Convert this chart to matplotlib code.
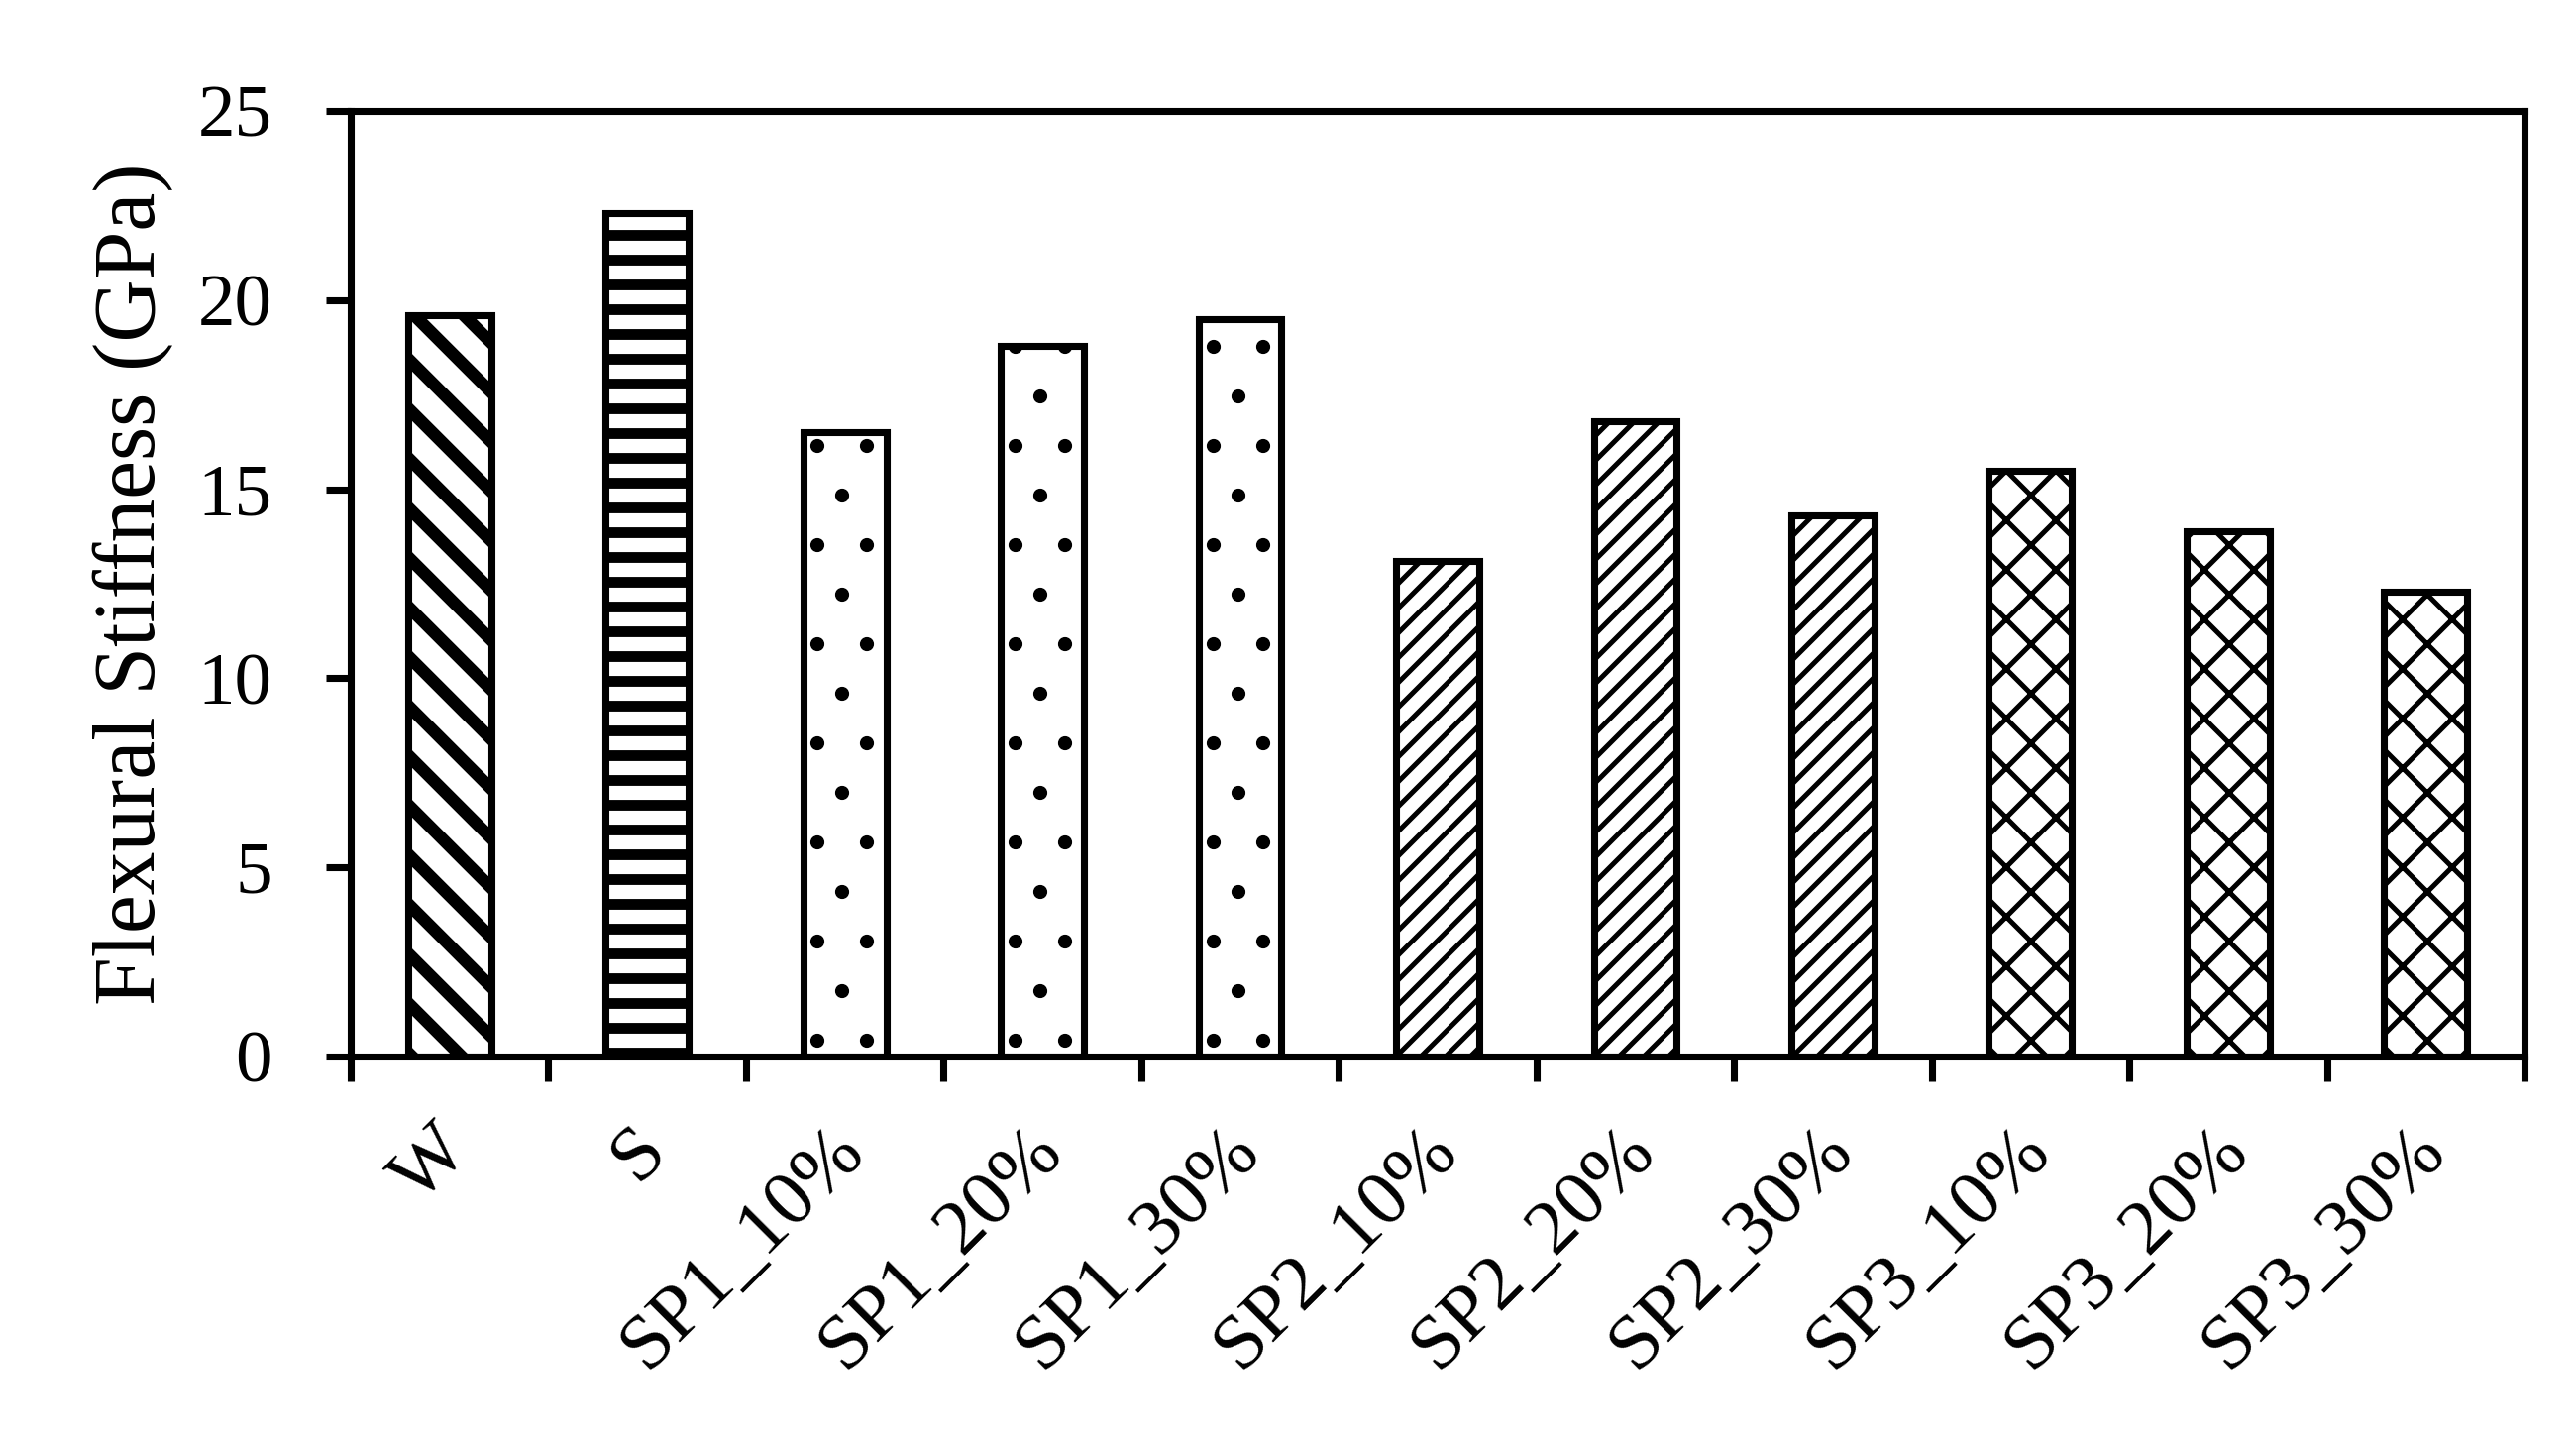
import matplotlib
matplotlib.use('Agg')
import matplotlib.pyplot as plt
import numpy as np

categories = ['W', 'S', 'SP1_10%', 'SP1_20%', 'SP1_30%', 'SP2_10%', 'SP2_20%',
              'SP2_30%', 'SP3_10%', 'SP3_20%', 'SP3_30%']
stiffness = [19.6, 22.3, 16.5, 18.8, 19.5, 13.1, 16.8, 14.3, 15.5, 13.9, 12.3]
y_ticks = [0, 5, 10, 15, 20, 25]
y_label = 'Flexural Stiffness (GPa)'

hatches = ['\\\\', '--', '.', '.', '.', '////', '////', '////', 'xx', 'xx', 'xx']
hatch_lw = [3.0, 2.6, 1.0, 1.0, 1.0, 1.2, 1.2, 1.2, 1.2, 1.2, 1.2]

plt.rcParams['font.family'] = ['Liberation Serif', 'DejaVu Serif']
plt.rcParams['hatch.color'] = 'black'

DPI = 300
fig = plt.figure(figsize=(2600 / DPI, 1455 / DPI), dpi=DPI)
ax = fig.add_axes([354 / 2600, 1 - 1066 / 1455, (2548 - 354) / 2600, (1066 - 112) / 1455])

x = np.arange(len(categories))
bars = ax.bar(x, stiffness, width=0.42, color='white', edgecolor='black',
              linewidth=1.7, zorder=2)
for b, h, lw in zip(bars, hatches, hatch_lw):
    b.set_hatch(h)
    if hasattr(b, 'set_hatch_linewidth'):
        b.set_hatch_linewidth(lw)

ax.set_xlim(-0.5, len(categories) - 0.5)
ax.set_ylim(0, 25)
ax.set_yticks(y_ticks)
ax.set_yticklabels([str(v) for v in y_ticks])

ax.set_xticks(np.arange(-0.5, len(categories), 1.0))
ax.set_xticklabels([])
ax.set_xticks(x + 0.04, minor=True)
ax.set_xticklabels(categories, minor=True, rotation=45, ha='right', va='center',
                   rotation_mode='anchor')

for s in ax.spines.values():
    s.set_linewidth(1.7)

ax.tick_params(axis='both', which='major', direction='out', length=6, width=1.7,
               labelsize=18, pad=13)
ax.tick_params(axis='x', which='minor', length=0, labelsize=19, pad=20)

ax.set_ylabel(y_label, fontsize=21, labelpad=6)

fig.savefig('out.png', dpi=DPI)
